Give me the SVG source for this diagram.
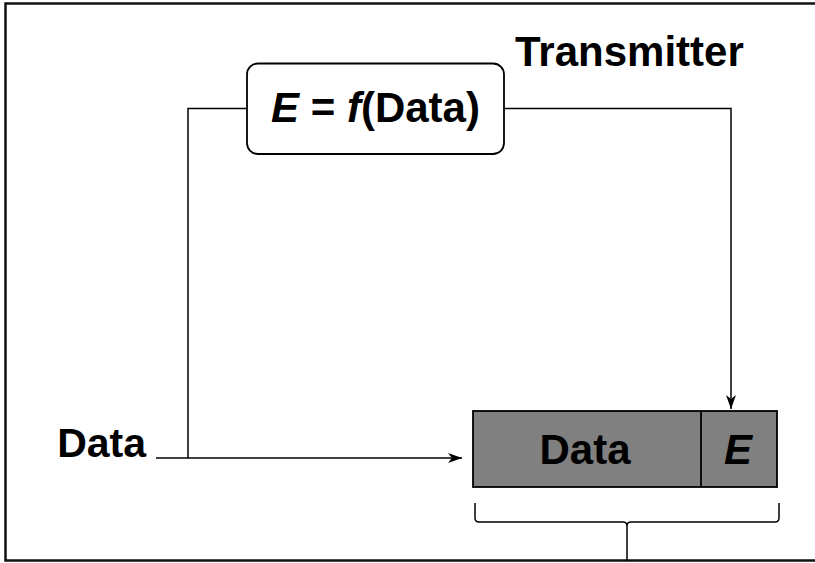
<svg xmlns="http://www.w3.org/2000/svg" width="815" height="563" viewBox="0 0 815 563">
  <defs>
    <marker id="arrow" viewBox="0 0 14 10" refX="14" refY="5" markerWidth="14" markerHeight="10" markerUnits="userSpaceOnUse" orient="auto">
      <path d="M0,0 L14,5 L0,10 L4,5 Z" fill="#000"/>
    </marker>
    <style>
      .lbl { font-family: "Liberation Sans", Arial, sans-serif; font-weight: bold; fill: #000; }
      .wire { fill: none; stroke: #000; stroke-width: 1.5; }
    </style>
  </defs>
  <rect width="815" height="563" fill="#fff"/>
  <!-- outer frame, open past the right edge -->
  <path d="M830,3.5 H5.5 V560.5 H830" fill="none" stroke="#111" stroke-width="2.5"/>

  <g id="transmitter-label">
    <text class="lbl" x="515" y="66" font-size="42">Transmitter</text>
  </g>

  <g id="encoder">
    <rect x="247" y="63.5" width="257" height="90.5" rx="11" fill="#fff" stroke="#000" stroke-width="1.8"/>
    <text class="lbl" x="375.5" y="122" font-size="42" text-anchor="middle"><tspan font-style="italic">E</tspan> = <tspan font-style="italic">f</tspan>(Data)</text>
  </g>

  <g id="data-input">
    <text class="lbl" x="146" y="457" font-size="41" text-anchor="end">Data</text>
  </g>

  <g id="frame">
    <rect x="473" y="411" width="304" height="76" fill="#808080" stroke="#000" stroke-width="1.8"/>
    <line x1="701" y1="411" x2="701" y2="487" stroke="#000" stroke-width="1.8"/>
    <text class="lbl" x="585" y="464" font-size="42" text-anchor="middle">Data</text>
    <text class="lbl" x="738" y="464" font-size="42" text-anchor="middle" font-style="italic">E</text>
  </g>

  <g id="brace">
    <path class="wire" d="M475,503 V518 Q475,522 479,522 H623 Q627,522 627,526 V561 M627,526 Q627,522 631,522 H775 Q779,522 779,518 V503"/>
  </g>

  <g id="connectors">
    <path class="wire" d="M156,458 H462" marker-end="url(#arrow)"/>
    <path class="wire" d="M188,458 V108.5 H247"/>
    <path class="wire" d="M504,108.5 H731 V409" marker-end="url(#arrow)"/>
  </g>
</svg>
